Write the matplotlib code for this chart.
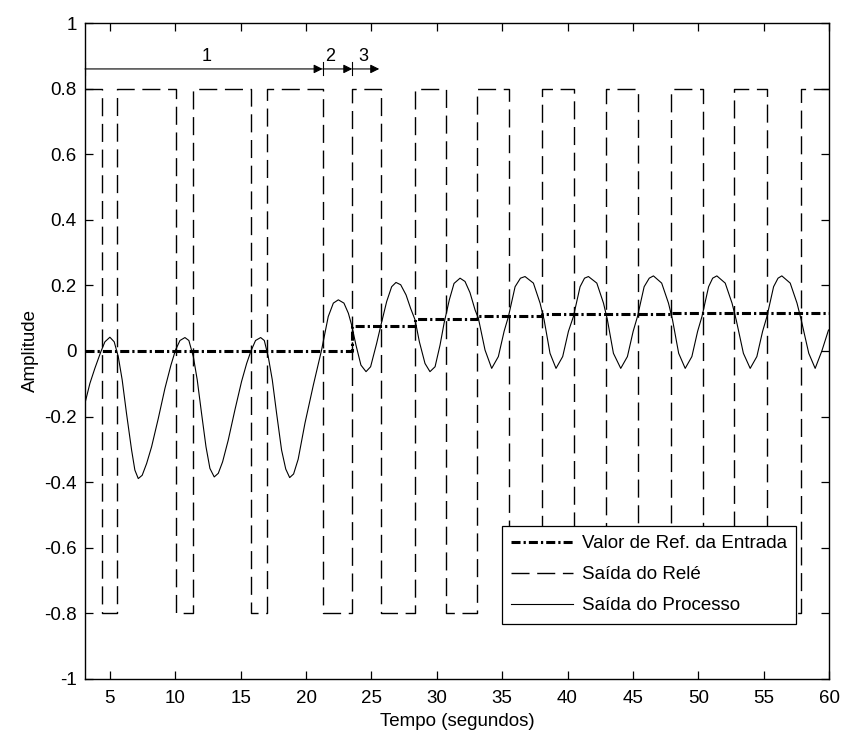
import matplotlib
matplotlib.use('Agg')
import matplotlib.pyplot as plt

plt.rcParams['font.family'] = ['Liberation Sans', 'DejaVu Sans']
plt.rcParams['lines.scale_dashes'] = False

# instantes de chaveamento do relé e níveis (steps-post)
relay_t = [3.1, 4.36, 5.56, 10.05, 11.33, 15.77, 17.04, 21.27, 23.54, 25.73,
           28.34, 30.68, 33.10, 35.55, 38.08, 40.50, 42.95, 45.42, 47.90,
           50.35, 52.77, 55.25, 57.87, 60.0]
relay_v = [0.8, -0.8, 0.8, -0.8, 0.8, -0.8, 0.8, -0.8, 0.8, -0.8,
           0.8, -0.8, 0.8, -0.8, 0.8, -0.8, 0.8, -0.8, 0.8,
           -0.8, 0.8, -0.8, 0.8, 0.8]

# valor de referência da entrada
ref_t = [3.1, 23.54, 28.34, 33.10, 38.08, 42.95, 47.90, 52.77, 57.87, 60.0]
ref_v = [0.0, 0.075, 0.097, 0.107, 0.112, 0.114, 0.115, 0.115, 0.116, 0.116]

# saída do processo
proc_t = [3.09, 3.47, 3.85, 4.31, 4.62, 5.00, 5.33, 5.64, 5.94, 6.27, 6.66, 6.91,
          7.17, 7.47, 7.81, 8.19, 8.70, 9.21, 9.67, 10.02, 10.36, 10.74, 11.04,
          11.38, 11.68, 12.01, 12.35, 12.65, 12.98, 13.29, 13.62, 14.05, 14.56,
          15.07, 15.46, 15.79, 16.14, 16.53, 16.81, 17.11, 17.42, 17.75, 18.13,
          18.45, 18.75, 19.05, 19.40, 19.92, 20.56, 21.19, 21.70, 22.09, 22.47,
          22.90, 23.24, 23.49, 23.82, 24.20, 24.59, 24.94, 25.40, 25.73, 26.17,
          26.55, 26.88, 27.24, 27.65, 28.00, 28.34, 28.67, 29.10, 29.48, 29.87,
          30.25, 30.56, 30.96, 31.32, 31.78, 32.16, 32.54, 32.93, 33.18, 33.69,
          34.20, 34.71, 35.15, 35.48, 35.99, 36.40, 36.75, 37.39, 37.90, 38.21,
          38.66, 39.12, 39.63, 40.07, 40.45, 40.96, 41.30, 41.60, 42.24, 42.75,
          43.05, 43.51, 44.07, 44.58, 45.02, 45.35, 45.86, 46.25, 46.57, 47.20,
          47.72, 48.03, 48.50, 49.00, 49.51, 49.95, 50.28, 50.79, 51.10, 51.42,
          52.06, 52.58, 52.90, 53.45, 53.97, 54.48, 54.92, 55.25, 55.76, 56.10,
          56.39, 57.03, 57.55, 57.87, 58.45, 58.94, 59.45, 59.96]
proc_v = [-0.160, -0.099, -0.053, -0.002, 0.028, 0.042, 0.028, -0.017, -0.088,
          -0.190, -0.302, -0.363, -0.389, -0.379, -0.343, -0.292, -0.206, -0.114,
          -0.043, 0.003, 0.032, 0.041, 0.032, -0.017, -0.088, -0.190, -0.292,
          -0.358, -0.384, -0.373, -0.338, -0.272, -0.180, -0.093, -0.038, 0.000,
          0.032, 0.041, 0.032, -0.017, -0.088, -0.190, -0.302, -0.360, -0.386,
          -0.375, -0.330, -0.220, -0.104, 0.003, 0.105, 0.146, 0.156, 0.146,
          0.115, 0.079, 0.018, -0.043, -0.063, -0.048, 0.023, 0.079, 0.151,
          0.196, 0.209, 0.202, 0.171, 0.130, 0.095, 0.028, -0.038, -0.063,
          -0.048, 0.018, 0.085, 0.156, 0.206, 0.222, 0.212, 0.178, 0.125, 0.100,
          0.003, -0.053, -0.017, 0.060, 0.105, 0.196, 0.222, 0.227, 0.207, 0.146,
          0.095, -0.007, -0.053, -0.017, 0.060, 0.105, 0.196, 0.222, 0.227, 0.207,
          0.146, 0.095, -0.007, -0.053, -0.017, 0.060, 0.105, 0.196, 0.222, 0.229,
          0.207, 0.146, 0.095, -0.007, -0.053, -0.017, 0.060, 0.105, 0.196, 0.222,
          0.229, 0.207, 0.146, 0.095, -0.007, -0.053, -0.017, 0.060, 0.105, 0.196,
          0.222, 0.229, 0.207, 0.146, 0.095, -0.007, -0.053, 0.000, 0.064]

# setas de intervalo no topo
arrow_start = [3.1, 21.27, 23.54]
arrow_end = [21.27, 23.54, 25.6]
arrow_labels = ['1', '2', '3']
label_pos = [12.4, 21.85, 24.35]

x_ticks = [5, 10, 15, 20, 25, 30, 35, 40, 45, 50, 55, 60]
y_ticks = [-1, -0.8, -0.6, -0.4, -0.2, 0, 0.2, 0.4, 0.6, 0.8, 1]
y_labels = ['-1', '-0.8', '-0.6', '-0.4', '-0.2', '0', '0.2', '0.4', '0.6', '0.8', '1']

fig = plt.figure(figsize=(8.42, 7.38), dpi=100)
ax = fig.add_axes([0.101, 0.080, 0.8836, 0.8888])

ax.plot(ref_t, ref_v, color='black', lw=2.2, drawstyle='steps-post',
        dashes=(6.5, 2.2, 1.6, 2.2), label='Valor de Ref. da Entrada')
ax.plot(relay_t, relay_v, color='black', lw=1.0, drawstyle='steps-post',
        dashes=(13, 5.5), label='Saída do Relé')
ax.plot(proc_t, proc_v, color='black', lw=0.8, label='Saída do Processo')

for a, b, lab, xp in zip(arrow_start, arrow_end, arrow_labels, label_pos):
    ax.annotate('', xy=(b, 0.86), xytext=(a, 0.86),
                arrowprops=dict(arrowstyle='-|>', color='black', lw=0.8,
                                mutation_scale=13, shrinkA=0, shrinkB=0))
    ax.plot([a, a], [0.843, 0.880], color='black', lw=0.8)
    ax.text(xp, 0.872, lab, ha='center', va='bottom', fontsize=13)

ax.set_xlim(3.1, 60)
ax.set_ylim(-1, 1)
ax.set_xticks(x_ticks)
ax.set_yticks(y_ticks)
ax.set_yticklabels(y_labels)
ax.tick_params(direction='in', top=True, right=True, length=6, width=0.9,
               labelsize=13.5)
ax.tick_params(axis='x', pad=8)
ax.tick_params(axis='y', pad=6)
for s in ax.spines.values():
    s.set_linewidth(1.0)

ax.set_xlabel('Tempo (segundos)', fontsize=13.5, labelpad=4)
ax.set_ylabel('Amplitude', fontsize=13.5, labelpad=4)

leg = ax.legend(loc='lower right', bbox_to_anchor=(0.956, 0.084),
                borderaxespad=0, fontsize=13.5, fancybox=False, framealpha=1,
                edgecolor='black', handlelength=3.3, handletextpad=0.45,
                labelspacing=0.75, borderpad=0.5)
leg.get_frame().set_linewidth(0.9)

fig.savefig('out.png', dpi=100)
